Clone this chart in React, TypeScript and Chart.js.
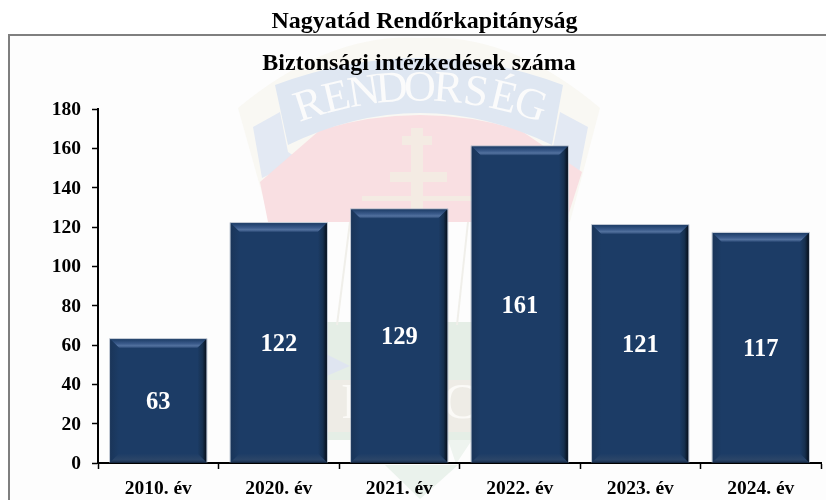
import React, { useEffect, useRef } from "react";
import { Chart, registerables } from "chart.js";

Chart.register(...registerables);

const categories = ["2010. év", "2020. év", "2021. év", "2022. év", "2023. év", "2024. év"];
const values = [63, 122, 129, 161, 121, 117];
const mainTitle = "Nagyatád Rendőrkapitányság";
const subTitle = "Biztonsági intézkedések száma";
const watermarkWord = "RENDORSÉG";
const SERIF = '"Liberation Serif", serif';

function poly(ctx: CanvasRenderingContext2D, pts: number[][], fill: string | CanvasGradient) {
  ctx.beginPath();
  pts.forEach((p, i) => (i ? ctx.lineTo(p[0], p[1]) : ctx.moveTo(p[0], p[1])));
  ctx.closePath();
  ctx.fillStyle = fill;
  ctx.fill();
}

const backdrop = {
  id: "backdrop",
  beforeDraw(chart: any) {
    const ctx: CanvasRenderingContext2D = chart.ctx;
    ctx.save();
    ctx.fillStyle = "#ffffff";
    ctx.fillRect(0, 0, 826, 500);
    ctx.fillStyle = "#fdfdfd";
    ctx.fillRect(9, 34, 817, 466);

    // shield outer cream rim
    ctx.beginPath();
    ctx.moveTo(238, 108);
    ctx.quadraticCurveTo(330, 32, 420, 38);
    ctx.quadraticCurveTo(510, 32, 600, 108);
    ctx.lineTo(570, 222);
    ctx.lineTo(270, 222);
    ctx.closePath();
    ctx.fillStyle = "#f9f8f3";
    ctx.fill();

    // side ribbons
    poly(ctx, [[253, 127], [280, 112], [288, 152], [300, 160], [262, 178]], "#e3e9f3");
    poly(ctx, [[588, 127], [560, 112], [552, 152], [540, 160], [578, 178]], "#e3e9f3");

    // red field
    ctx.beginPath();
    ctx.moveTo(260, 182);
    ctx.lineTo(320, 130);
    ctx.quadraticCurveTo(420, 100, 520, 130);
    ctx.lineTo(582, 172);
    ctx.lineTo(566, 222);
    ctx.lineTo(268, 222);
    ctx.closePath();
    ctx.fillStyle = "#f9dfe2";
    ctx.fill();

    // main ribbon
    ctx.beginPath();
    ctx.moveTo(275, 85);
    ctx.quadraticCurveTo(420, 31, 563, 85);
    ctx.lineTo(552, 145);
    ctx.quadraticCurveTo(420, 81, 288, 145);
    ctx.closePath();
    ctx.fillStyle = "#dfe7f2";
    ctx.fill();

    // cross
    ctx.fillStyle = "#f4ebe3";
    ctx.fillRect(411, 128, 12, 84);
    ctx.fillRect(402, 136, 30, 9);
    ctx.fillRect(390, 172, 57, 10);
    ctx.fillRect(362, 196, 118, 5);

    // lower shield bands
    poly(ctx, [[320, 322], [480, 322], [480, 440], [320, 440]], "#e5eee6");
    ctx.fillStyle = "#eeece6";
    ctx.fillRect(320, 380, 160, 52);
    poly(ctx, [[322, 352], [350, 366], [322, 378]], "#dfe5f0");

    // lower point of the emblem
    poly(ctx, [[448, 440], [472, 440], [456, 464]], "#eef4ef");
    poly(ctx, [[385, 465], [458, 465], [420, 499]], "#eaf2ec");

    // shield side lines
    ctx.strokeStyle = "#f0efea";
    ctx.lineWidth = 2;
    ctx.beginPath();
    ctx.moveTo(350, 222);
    ctx.lineTo(337, 325);
    ctx.moveTo(468, 222);
    ctx.lineTo(457, 325);
    ctx.stroke();

    // lower letters
    ctx.fillStyle = "#fbfaf7";
    ctx.font = `50px ${SERIF}`;
    ctx.textAlign = "center";
    ctx.textBaseline = "middle";
    ctx.fillText("R", 358, 405);
    ctx.fillText("C", 460, 405);

    // arched word
    const cx = 420;
    const cy = 446;
    const r = 357;
    ctx.font = `44px ${SERIF}`;
    ctx.fillStyle = "#fbfbfb";
    const letters = Array.from(watermarkWord);
    letters.forEach((ch, i) => {
      const a = ((i - (letters.length - 1) / 2) * 4.5 * Math.PI) / 180;
      ctx.save();
      ctx.translate(cx + r * Math.sin(a), cy - r * Math.cos(a));
      ctx.rotate(a);
      ctx.fillText(ch, 0, 0);
      ctx.restore();
    });

    // frame
    ctx.fillStyle = "#7f7f7f";
    ctx.fillRect(8, 34, 818, 2);
    ctx.fillRect(8, 34, 2, 466);

    // headings
    ctx.fillStyle = "#000";
    ctx.textAlign = "center";
    ctx.textBaseline = "middle";
    ctx.font = `bold 24px ${SERIF}`;
    ctx.fillText(mainTitle, 424.5, 22);
    ctx.fillText(subTitle, 419, 64);
    ctx.restore();
  },
};

const bevel = {
  id: "bevel",
  afterDatasetsDraw(chart: any) {
    const ctx: CanvasRenderingContext2D = chart.ctx;
    const meta = chart.getDatasetMeta(0);
    meta.data.forEach((bar: any, i: number) => {
      const { x, y, base, width } = bar.getProps(["x", "y", "base", "width"], true);
      const x0 = x - width / 2;
      const x1 = x + width / 2;
      const b = 9;
      ctx.save();
      // top bevel
      let g = ctx.createLinearGradient(0, y, 0, y + b);
      g.addColorStop(0, "#1c3c66");
      g.addColorStop(0.5, "#3a5a8a");
      g.addColorStop(0.75, "#53729f");
      g.addColorStop(1, "#24436f");
      poly(ctx, [[x0, y], [x1, y], [x1 - b, y + b], [x0 + b, y + b]], g);
      // right bevel
      g = ctx.createLinearGradient(x1 - b, 0, x1, 0);
      g.addColorStop(0, "#1c3c66");
      g.addColorStop(0.55, "#16304f");
      g.addColorStop(1, "#060e1a");
      poly(ctx, [[x1, y], [x1, base], [x1 - b, base - b], [x1 - b, y + b]], g);
      // left bevel
      g = ctx.createLinearGradient(x0, 0, x0 + b, 0);
      g.addColorStop(0, "#1a3559");
      g.addColorStop(1, "#1c3c66");
      poly(ctx, [[x0, y], [x0, base], [x0 + b, base - b], [x0 + b, y + b]], g);
      // bottom bevel
      g = ctx.createLinearGradient(0, base - b, 0, base);
      g.addColorStop(0, "#1c3c66");
      g.addColorStop(0.7, "#2b4568");
      g.addColorStop(1, "#1a2f4d");
      poly(ctx, [[x0, base], [x1, base], [x1 - b, base - b], [x0 + b, base - b]], g);
      // light outline
      ctx.strokeStyle = "rgba(170,180,195,0.75)";
      ctx.lineWidth = 1;
      ctx.beginPath();
      ctx.moveTo(x0 - 0.5, base);
      ctx.lineTo(x0 - 0.5, y - 0.5);
      ctx.lineTo(x1 + 0.5, y - 0.5);
      ctx.lineTo(x1 + 0.5, base);
      ctx.stroke();
      // value label
      ctx.fillStyle = "#ffffff";
      ctx.font = `bold 24.5px ${SERIF}`;
      ctx.textAlign = "center";
      ctx.textBaseline = "middle";
      ctx.fillText(String(values[i]), x, (y + base) / 2 + 2);
      ctx.restore();
    });
  },
};

export default function App() {
  const ref = useRef<HTMLCanvasElement>(null);
  useEffect(() => {
    const chart = new Chart(ref.current!, {
      type: "bar",
      data: {
        labels: categories,
        datasets: [
          {
            data: values,
            backgroundColor: "#1c3c66",
            barPercentage: 0.8,
            categoryPercentage: 1,
          },
        ],
      },
      plugins: [backdrop, bevel],
      options: {
        responsive: false,
        animation: false,
        layout: { padding: { left: 0, right: 5, top: 109, bottom: 0 } },
        plugins: {
          legend: { display: false },
          tooltip: { enabled: false },
          title: { display: false },
        },
        scales: {
          x: {
            afterFit: (s: any) => {
              s.height = 37;
            },
            grid: {
              display: true,
              drawOnChartArea: false,
              drawTicks: true,
              tickLength: 6,
              tickColor: "#000",
              tickWidth: 1.5,
            },
            border: { color: "#000", width: 2 },
            ticks: {
              color: "#000",
              font: { family: SERIF, size: 19.5, weight: "bold" },
              padding: 8,
              maxRotation: 0,
              autoSkip: false,
            },
          },
          y: {
            min: 0,
            max: 180,
            afterFit: (s: any) => {
              s.width = 98;
            },
            grid: {
              display: true,
              drawOnChartArea: false,
              drawTicks: true,
              tickLength: 6,
              tickColor: "#000",
              tickWidth: 1.5,
            },
            border: { color: "#000", width: 2 },
            ticks: {
              stepSize: 20,
              labelOffset: 1,
              color: "#000",
              font: { family: SERIF, size: 19.5, weight: "bold" },
              padding: 11,
            },
          },
        },
      },
    } as any);
    return () => chart.destroy();
  }, []);
  return (
    <canvas
      ref={ref}
      width={826}
      height={500}
      style={{ position: "fixed", left: 0, top: 0, width: 826, height: 500 }}
    />
  );
}
